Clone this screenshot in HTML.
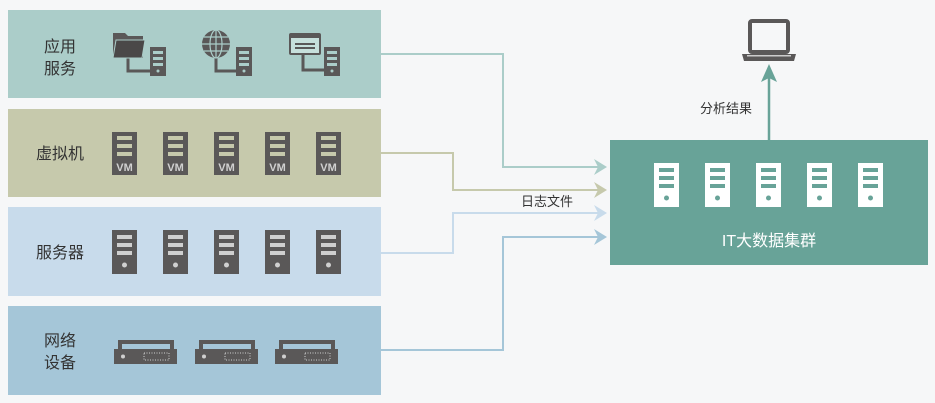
<!DOCTYPE html>
<html><head><meta charset="utf-8"><style>
html,body{margin:0;padding:0;background:#f6f7f8;}
svg{display:block}
text{font-family:"Liberation Sans","Noto Sans CJK SC",sans-serif;}
</style></head><body>
<svg width="935" height="403" viewBox="0 0 935 403" xmlns="http://www.w3.org/2000/svg">
<defs>
<g id="srv"><rect x="0" y="0" width="25" height="44" fill="#5a5858"/><rect x="5" y="5" width="15" height="4" fill="#cfcfcf"/><rect x="5" y="13" width="15" height="4" fill="#cfcfcf"/><rect x="5" y="21" width="15" height="4" fill="#cfcfcf"/><circle cx="12.5" cy="35" r="2.5" fill="#cfcfcf"/></g>
<g id="vm"><rect x="0" y="0" width="25" height="43" fill="#5a5858"/><rect x="5" y="4" width="15" height="4" fill="#c6c9ac"/><rect x="5" y="12" width="15" height="4" fill="#c6c9ac"/><rect x="5" y="20" width="15" height="4" fill="#c6c9ac"/><text x="12.5" y="39" font-size="11" font-weight="bold" fill="#d0d0d0" text-anchor="middle">VM</text></g>
<g id="net"><path d="M6 13 V4 H58 V13" fill="none" stroke="#5a5858" stroke-width="4"/><rect x="0" y="11" width="63" height="15" fill="#5a5858"/><circle cx="9" cy="18.5" r="2" fill="#cfcfcf"/><rect x="30" y="15" width="25" height="7" fill="none" stroke="#cfcfcf" stroke-width="1" stroke-dasharray="1 1.5"/></g>
<g id="wsrv"><rect x="0" y="0" width="25" height="44" fill="#fff"/><rect x="5" y="5" width="15" height="4" fill="#68a398"/><rect x="5" y="13" width="15" height="4" fill="#68a398"/><rect x="5" y="21" width="15" height="4" fill="#68a398"/><circle cx="12.5" cy="35" r="2.5" fill="#68a398"/></g>
<g id="ssrv"><rect x="0" y="0" width="16" height="29" fill="#5a5858"/><rect x="3" y="4" width="10" height="3" fill="#abcdc9"/><rect x="3" y="10" width="10" height="3" fill="#abcdc9"/><rect x="3" y="16" width="10" height="3" fill="#abcdc9"/><circle cx="8" cy="24" r="1.5" fill="#abcdc9"/></g>
</defs>
<rect x="8" y="10" width="373" height="88" fill="#abcdc9"/>
<rect x="8" y="109" width="373" height="88" fill="#c6c9ac"/>
<rect x="8" y="207" width="373" height="89" fill="#c8dbeb"/>
<rect x="8" y="306" width="373" height="89" fill="#a5c6d8"/>
<g font-size="16" fill="#333">
<text x="60" y="52" text-anchor="middle">应用</text><text x="60" y="74" text-anchor="middle">服务</text>
<text x="60" y="159" text-anchor="middle">虚拟机</text>
<text x="60" y="258" text-anchor="middle">服务器</text>
<text x="60" y="346" text-anchor="middle">网络</text><text x="60" y="368" text-anchor="middle">设备</text>
</g>
<path d="M128 57 V71 H150" fill="none" stroke="#5a5858" stroke-width="3"/>
<path d="M113 33 H125 L128 36 H143 V58 H113 Z" fill="#5a5858"/>
<path d="M116 40 H145 L142 58 H113 Z" fill="#4a4848" stroke="#abcdc9" stroke-width="1"/>
<use href="#ssrv" x="150" y="47"/>
<path d="M216 56 V71 H236" fill="none" stroke="#5a5858" stroke-width="3"/>
<circle cx="216" cy="44" r="14" fill="#5a5858"/>
<g stroke="#abcdc9" stroke-width="1.2" fill="none"><ellipse cx="216" cy="44" rx="6" ry="14"/><line x1="216" y1="30" x2="216" y2="58"/><line x1="202" y1="44" x2="230" y2="44"/><line x1="204" y1="37" x2="228" y2="37"/><line x1="204" y1="51" x2="228" y2="51"/></g>
<use href="#ssrv" x="236" y="47"/>
<path d="M303 55 V70 H324" fill="none" stroke="#5a5858" stroke-width="3"/>
<rect x="289" y="33" width="32" height="22" rx="2" fill="#5a5858"/>
<rect x="291" y="38" width="28" height="15" fill="#c7e0dc"/>
<rect x="295" y="43" width="20" height="2" fill="#5a5858"/><rect x="295" y="47" width="20" height="2" fill="#5a5858"/>
<use href="#ssrv" x="324" y="47"/>
<use href="#vm" x="112" y="132"/><use href="#vm" x="163" y="132"/><use href="#vm" x="214" y="132"/><use href="#vm" x="265" y="132"/><use href="#vm" x="316" y="132"/>
<use href="#srv" x="112" y="230"/><use href="#srv" x="163" y="230"/><use href="#srv" x="214" y="230"/><use href="#srv" x="265" y="230"/><use href="#srv" x="316" y="230"/>
<use href="#net" x="114" y="338"/><use href="#net" x="195" y="338"/><use href="#net" x="275" y="338"/>
<g fill="none" stroke-width="2">
<path d="M381 54 H503 V167 H598" stroke="#abcdc9"/>
<path d="M381 153 H453 V190 H598" stroke="#c6c9ac"/>
<path d="M381 253 H453 V213 H598" stroke="#c8dbeb"/>
<path d="M381 350 H503 V237 H598" stroke="#a5c6d8"/>
</g>
<path d="M594 159 L607 167 L594 175 L598 167 Z" fill="#abcdc9"/>
<path d="M594 182 L607 190 L594 198 L598 190 Z" fill="#c6c9ac"/>
<path d="M594 205 L607 213 L594 221 L598 213 Z" fill="#c8dbeb"/>
<path d="M594 229 L607 237 L594 245 L598 237 Z" fill="#a5c6d8"/>
<text x="521" y="206" font-size="13" fill="#333">日志文件</text>
<rect x="610" y="140" width="318" height="125" fill="#68a398"/>
<use href="#wsrv" x="654" y="163"/><use href="#wsrv" x="705" y="163"/><use href="#wsrv" x="756" y="163"/><use href="#wsrv" x="807" y="163"/><use href="#wsrv" x="858" y="163"/>
<text x="769" y="246" font-size="16" fill="#fff" text-anchor="middle">IT大数据集群</text>
<line x1="769" y1="140" x2="769" y2="75" stroke="#68a398" stroke-width="2.5"/>
<path d="M769 64 L777 82 L769 78 L761 82 Z" fill="#68a398"/>
<text x="700" y="113" font-size="13" fill="#333">分析结果</text>
<rect x="750" y="21" width="38" height="31" rx="2" fill="none" stroke="#5a5858" stroke-width="4"/>
<path d="M742 54 H796 L794 61 H744 Z" fill="#5a5858"/>
<rect x="747" y="55" width="44" height="1.5" fill="#ccc"/>
</svg>
</body></html>
